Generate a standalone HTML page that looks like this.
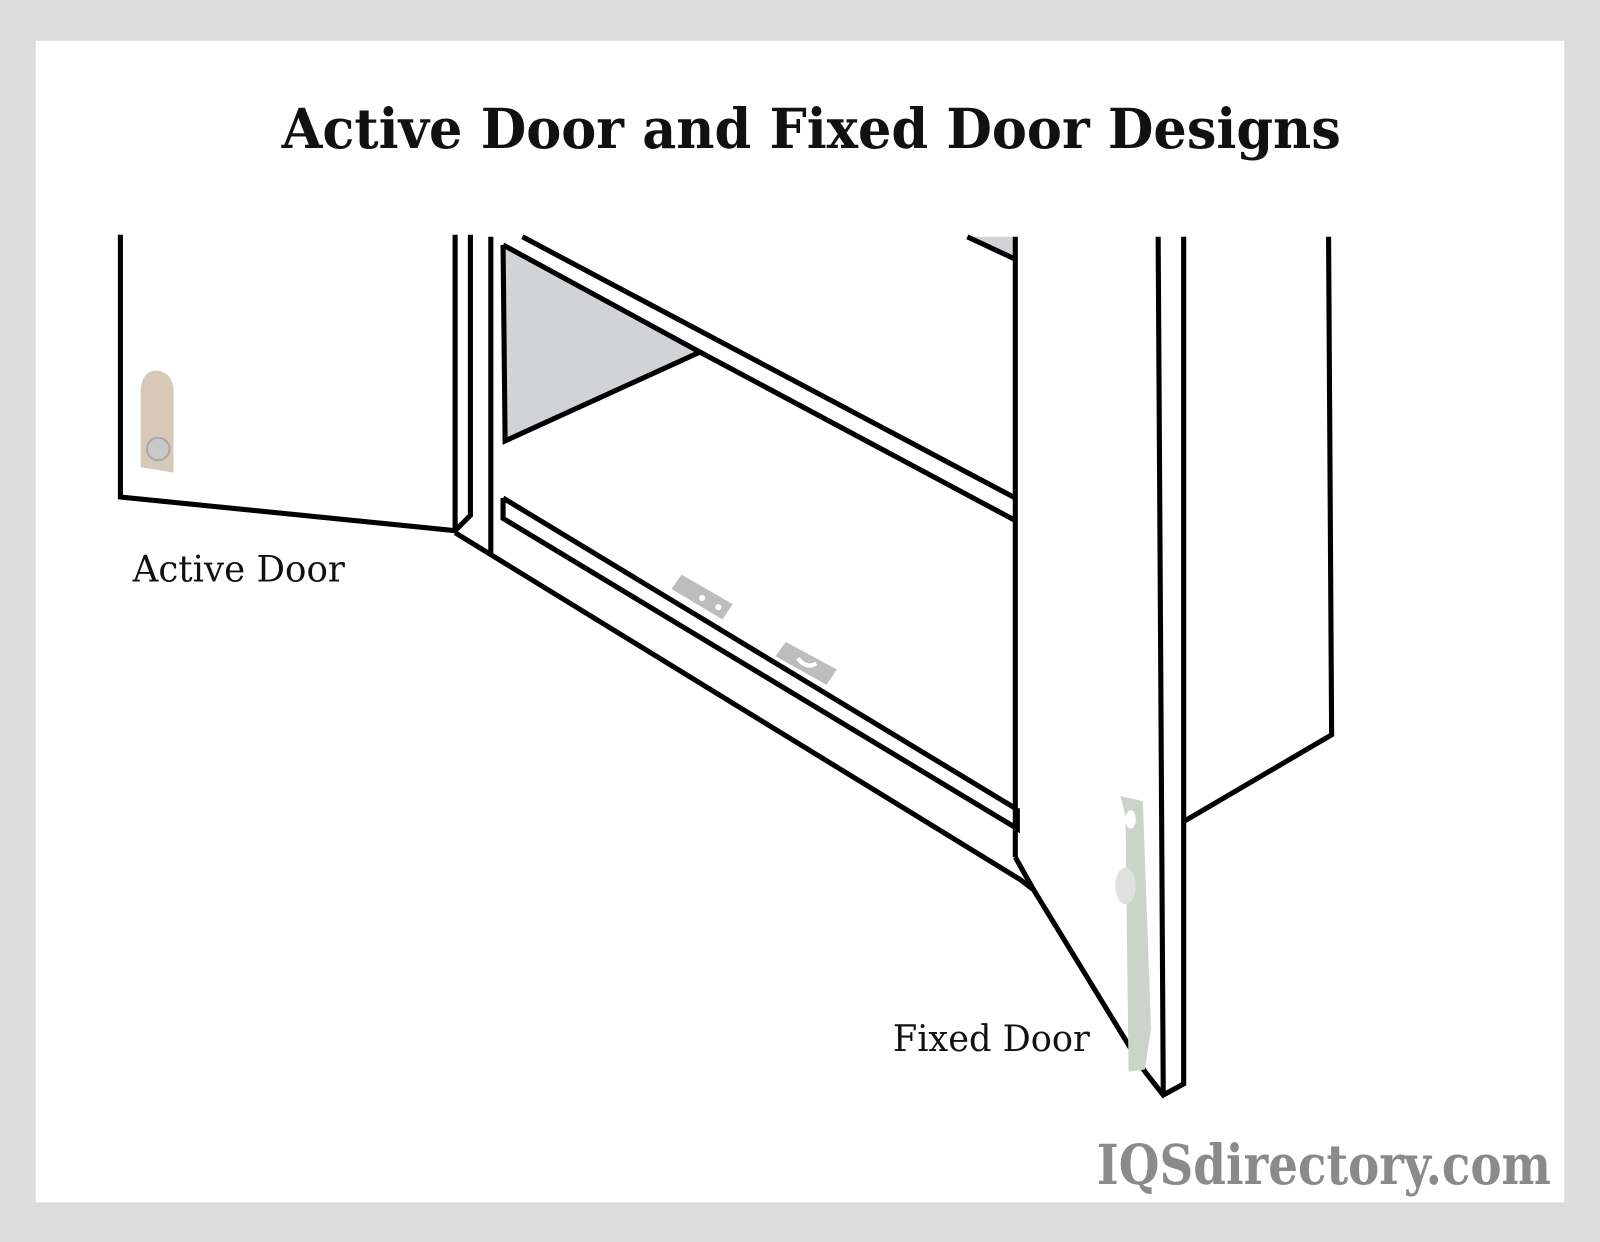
<!DOCTYPE html>
<html><head><meta charset="utf-8"><style>html,body{margin:0;padding:0;background:#dcdcdc}svg{display:block}</style></head>
<body>
<svg width="1600" height="1242" viewBox="0 0 1568 1217" preserveAspectRatio="none" xmlns="http://www.w3.org/2000/svg">
<rect width="1568" height="1217" fill="#dcdcdc"/>
<rect x="35" y="40" width="1498" height="1138" fill="#fff"/>
<text x="795" y="145" text-anchor="middle" font-family="DejaVu Serif, Liberation Serif, serif" font-weight="bold" font-size="54" textLength="1038" lengthAdjust="spacingAndGlyphs" fill="#111">Active Door and Fixed Door Designs</text>
<polygon points="493,240 686,345 495,432" fill="#d1d3d6"/>
<polygon points="948,232 995,232 995,252" fill="#d1d3d6"/>
<g fill="none" stroke="#000" stroke-width="5" stroke-linejoin="miter">
<polyline points="118,230 118,487 446,520 446,230"/>
<polyline points="461,230 461,505 446,520"/>
<line x1="481" y1="232" x2="481" y2="542"/>
<polyline points="493,240 686,345 495,432 493,240"/>
<line x1="512" y1="232" x2="995" y2="488"/>
<line x1="686" y1="345" x2="995" y2="510"/>
<line x1="948" y1="232" x2="995" y2="254"/>
<line x1="995" y1="232" x2="995" y2="840"/>
<polyline points="493,488 995,792"/>
<polyline points="493,488 493,508 997,812 997,792"/>
<polyline points="446,522 1000,862 1013,872 1122,1050 1140,1073 1160,1062 1160,232"/>
<polyline points="995,840 1013,872"/>
<line x1="1135" y1="232" x2="1140" y2="1073"/>
<polyline points="1160,805 1305,720 1302,232"/>
</g>
<path d="M138,380 Q140,363 154,363 Q168,365 170,380 L170,463 L138,458 Z" fill="#d8c8b8"/>
<circle cx="155" cy="440" r="11" fill="#c9c9c9" stroke="#a9a9a9" stroke-width="2"/>
<polygon points="1098,780 1120,785 1128,1008 1122,1048 1106,1050 1103,800" fill="#ccd3cb"/>
<ellipse cx="1108" cy="803" rx="5" ry="9" fill="#fff"/>
<ellipse cx="1103" cy="868" rx="10" ry="18" fill="#e0e0e0"/>
<polygon points="658,577 668,563 718,592 708,607" fill="#bdbdbd"/>
<polygon points="760,643 770,629 820,656 810,671" fill="#bdbdbd"/>
<circle cx="688" cy="586" r="3" fill="#fff"/><circle cx="704" cy="595" r="3" fill="#fff"/>
<path d="M782,645 Q790,656 800,650" stroke="#fff" stroke-width="4" fill="none"/>
<text x="130" y="570" font-family="DejaVu Serif, Liberation Serif, serif" font-size="36" textLength="208" lengthAdjust="spacingAndGlyphs" fill="#111">Active Door</text>
<text x="875" y="1030" font-family="DejaVu Serif, Liberation Serif, serif" font-size="36" textLength="193" lengthAdjust="spacingAndGlyphs" fill="#111">Fixed Door</text>
<text x="1075" y="1160" font-family="DejaVu Serif, Liberation Serif, serif" font-weight="bold" font-size="54" textLength="445" lengthAdjust="spacingAndGlyphs" fill="#8a8a8a">IQSdirectory.com</text>
</svg>
</body></html>
